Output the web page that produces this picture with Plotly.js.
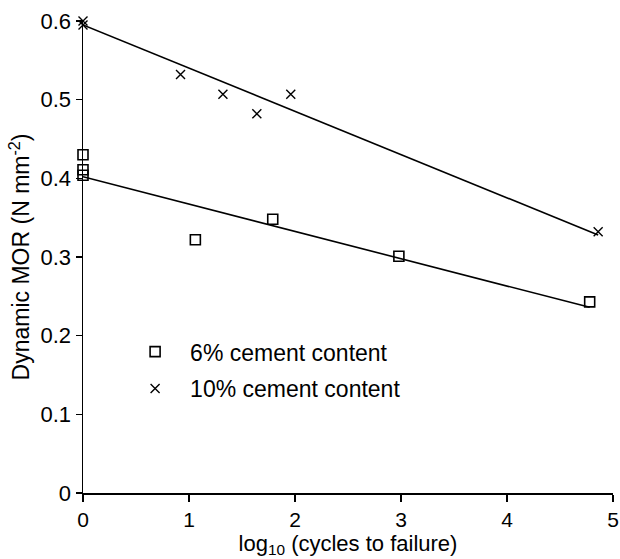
<!DOCTYPE html>
<html>
<head>
<meta charset="utf-8">
<script src="https://cdn.plot.ly/plotly-3.0.1.min.js"></script>
<style>html,body{margin:0;padding:0;background:#fff;}#chart{width:620px;height:559px;}</style>
</head>
<body>
<div id="chart"></div>
<script>
// 6% cement content (squares)
const x6 = [0, 0, 0, 1.06, 1.79, 2.98, 4.78];
const y6 = [0.430, 0.411, 0.404, 0.322, 0.348, 0.301, 0.243];
// 10% cement content (crosses)
const x10 = [0, 0, 0.92, 1.32, 1.64, 1.96, 4.86];
const y10 = [0.600, 0.595, 0.532, 0.507, 0.482, 0.507, 0.332];
// fitted regression lines (end points)
const fit6X = [0, 4.78];
const fit6Y = [0.402, 0.236];
const fit10X = [0, 4.86];
const fit10Y = [0.595, 0.328];

const xTicks = [0, 1, 2, 3, 4, 5];
const yTicks = [0, 0.1, 0.2, 0.3, 0.4, 0.5, 0.6];
const yTickText = ['0', '0.1', '0.2', '0.3', '0.4', '0.5', '0.6'];

const font = 'Liberation Sans, Arial, sans-serif';

const traces = [
  {x: fit6X, y: fit6Y, mode: 'lines', line: {color: '#000', width: 1.6}, showlegend: false, hoverinfo: 'skip', cliponaxis: false},
  {x: fit10X, y: fit10Y, mode: 'lines', line: {color: '#000', width: 1.6}, showlegend: false, hoverinfo: 'skip', cliponaxis: false},
  {x: x6, y: y6, mode: 'markers', name: '6% cement content', legendgroup: 'a',
   marker: {symbol: 'square-open', size: 10, color: '#000', line: {width: 1.6, color: '#000'}}, cliponaxis: false},
  {x: x10, y: y10, mode: 'markers', name: '10% cement content', legendgroup: 'b',
   marker: {symbol: 'x-thin-open', size: 9, color: '#000', line: {width: 1.4, color: '#000'}}, cliponaxis: false}
];

const layout = {
  width: 620, height: 559,
  margin: {l: 83, r: 7, t: 21, b: 66},
  paper_bgcolor: '#fff', plot_bgcolor: '#fff',
  font: {family: font, color: '#000', size: 22},
  showlegend: true,
  legend: {x: 0.07, y: 0.345, xanchor: 'left', yanchor: 'top', bgcolor: 'rgba(0,0,0,0)',
           font: {size: 23, family: font}, traceorder: 'grouped', tracegroupgap: 4, itemwidth: 60},
  xaxis: {
    range: [0, 5], tickvals: xTicks, ticktext: xTicks.map(String),
    showline: true, linecolor: '#000', linewidth: 1.5, showgrid: false, zeroline: false,
    ticks: 'outside', ticklen: 7, tickwidth: 1.5, tickcolor: '#000',
    tickfont: {size: 21, family: font},
    title: {text: 'log<sub>10</sub> (cycles to failure)', font: {size: 22, family: font}, standoff: 0}
  },
  yaxis: {
    range: [0, 0.6], tickvals: yTicks, ticktext: yTickText,
    showline: true, linecolor: '#000', linewidth: 1.5, showgrid: false, zeroline: false,
    ticks: 'outside', ticklen: 6, tickwidth: 1.5, tickcolor: '#000',
    tickfont: {size: 22, family: font},
    title: {text: 'Dynamic MOR (N mm<sup>-2</sup>)', font: {size: 23, family: font}, standoff: 4}
  }
};

Plotly.newPlot('chart', traces, layout, {displayModeBar: false, staticPlot: true});
</script>
</body>
</html>
